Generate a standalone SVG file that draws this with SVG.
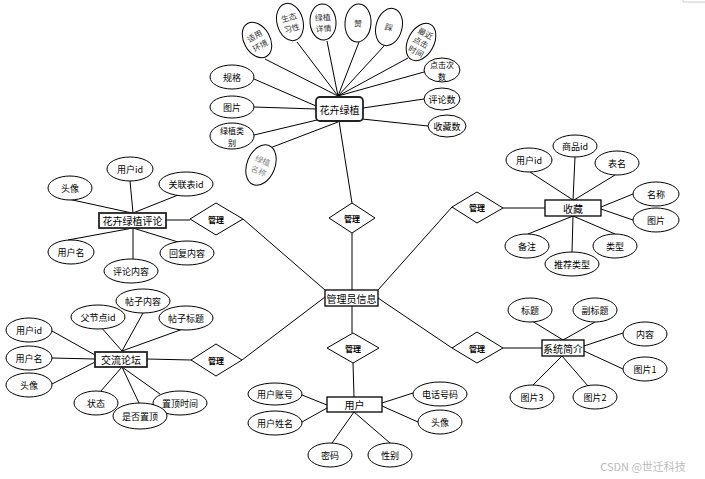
<svg xmlns="http://www.w3.org/2000/svg" width="705" height="479" viewBox="0 0 705 479">
<style>
.e{fill:#fff;stroke:#000;stroke-width:1}
.b{fill:#fff;stroke:#000;stroke-width:1.3}
.bb{fill:#fff;stroke:#222;stroke-width:1.8}
.d{fill:#fff;stroke:#000;stroke-width:1}
.l{stroke:#000;stroke-width:1;fill:none}
text{font-family:"Noto Sans CJK SC","Liberation Sans",sans-serif;font-size:9px;fill:#000;text-anchor:middle;dominant-baseline:central}
.t{font-size:10px}
.m{font-size:8px;font-weight:bold}
.s{font-size:8px}
.r{fill:#333;font-size:8px}
.g{fill:#888;font-size:8px}
</style>
<rect width="705" height="479" fill="#fff"/>
<path d="M683 0V2H705" stroke="#ccc" fill="none"/>
<g id="connectors">
<path class="l" d="M265 59L338 96M297 42L338 96M327 41L338 96M359 42L338 96M384 46L338 96M408 58L338 96M424 72L338 96M424 99L363 108M428 126L362 119M254 79L316 106M254 107L316 109M254 135L317 120M270 148L338 122M339 121L352 203"/>
<path class="l" d="M352 233V290M243 219L325 290M452 207L378 290M325 297L242 360M352 306V333M378 298L452 348M353 363L354 397"/>
<path class="l" d="M302 395L327 405M302 422L327 408M413 393L382 403M418 422L382 406M332 443L354 412M390 443L354 412"/>
<path class="l" d="M68 199L132 213M130 181L133 213M178 195L133 213M68 240L133 228M133 228V259M133 228L178 242M166 220H190"/>
<path class="l" d="M530 172L573 200M575 157L573 200M615 175L574 200M633 194L601 207M633 220L601 209M528 234L573 216M573 216L572 252M573 216L615 234M503 208H545"/>
<path class="l" d="M100 326L122 351M143 313L122 351M183 329L122 351M52 331L95 355M52 358L95 359M52 384L95 362M100 392L122 367M139 403L122 367M160 394L122 367M147 359L191 360"/>
<path class="l" d="M532 321L563 340M595 322L563 340M623 333L584 346M623 369L584 351M533 385L562 356M588 386L562 356M503 348H542"/>
</g>
<g id="n_flower"><rect class="bb" x="316" y="97" width="47" height="24" rx="4"/><text class="t" x="339.5" y="109">花卉绿植</text></g>
<g id="a_syhj" transform="translate(257 40) rotate(-30)"><ellipse class="e" rx="13" ry="19"/><text class="r" y="-5">适用</text><text class="r" y="6">环境</text></g>
<g id="a_stxx" transform="translate(290 22) rotate(-15)"><ellipse class="e" rx="13" ry="19"/><text class="r" y="-5">生态</text><text class="r" y="6">习性</text></g>
<g id="a_lzxq" transform="translate(323 22) rotate(-4)"><ellipse class="e" rx="13" ry="18"/><text class="r" y="-5">绿植</text><text class="r" y="6">详情</text></g>
<g id="a_zan" transform="translate(358 23) rotate(4)"><ellipse class="e" rx="13" ry="19"/><text class="r">赞</text></g>
<g id="a_cai" transform="translate(389 27) rotate(15)"><ellipse class="e" rx="13" ry="19"/><text class="r">踩</text></g>
<g id="a_zjdj" transform="translate(421 42) rotate(28)"><ellipse class="e" rx="13" ry="20"/><text class="r" y="-10">最近</text><text class="r" y="0">点击</text><text class="r" y="10">时间</text></g>
<g id="a_djcs"><ellipse class="e" cx="442" cy="70" rx="18" ry="12"/><text class="s" x="442" y="64">点击次</text><text class="s" x="442" y="76">数</text></g>
<g id="a_pls"><ellipse class="e" cx="442" cy="99" rx="18" ry="11"/><text x="442" y="99">评论数</text></g>
<g id="a_scs"><ellipse class="e" cx="447" cy="126" rx="19" ry="11"/><text x="447" y="126">收藏数</text></g>
<g id="a_gg"><ellipse class="e" cx="232" cy="77" rx="22" ry="12"/><text x="232" y="77">规格</text></g>
<g id="a_tp"><ellipse class="e" cx="232" cy="107" rx="22" ry="11"/><text x="232" y="107">图片</text></g>
<g id="a_lzlb"><ellipse class="e" cx="232" cy="136" rx="22" ry="13"/><text class="s" x="232" y="130">绿植类</text><text class="s" x="232" y="142">别</text></g>
<g id="a_lzmc" transform="translate(261 165) rotate(22)"><ellipse class="e" rx="14" ry="21"/><text class="g" y="-5">绿植</text><text class="g" y="6">名称</text></g>
<g id="r_top"><polygon class="d" points="352,203 375,218 352,233 329,218"/><text class="m" x="352" y="218">管理</text></g>
<g id="n_admin"><rect class="b" x="325" y="290" width="53" height="16"/><text class="t" x="351.5" y="298">管理员信息</text></g>
<g id="r_user"><polygon class="d" points="353,333 379,348 353,363 327,348"/><text class="m" x="353" y="348">管理</text></g>
<g id="n_user"><rect class="b" x="327" y="397" width="55" height="15"/><text class="t" x="354.5" y="404.5">用户</text></g>
<g id="a_yhzh"><ellipse class="e" cx="275" cy="394" rx="27" ry="11"/><text x="275" y="394">用户账号</text></g>
<g id="a_yhxm"><ellipse class="e" cx="275" cy="423" rx="27" ry="12"/><text x="275" y="423">用户姓名</text></g>
<g id="a_dhhm"><ellipse class="e" cx="440" cy="394" rx="27" ry="12"/><text x="440" y="394">电话号码</text></g>
<g id="a_utx"><ellipse class="e" cx="440" cy="422" rx="22" ry="12"/><text x="440" y="422">头像</text></g>
<g id="a_mm"><ellipse class="e" cx="330" cy="455" rx="22" ry="12"/><text x="330" y="455">密码</text></g>
<g id="a_xb"><ellipse class="e" cx="390" cy="455" rx="22" ry="12"/><text x="390" y="455">性别</text></g>
<g id="r_comment"><polygon class="d" points="216,203 243,219 216,235 190,219"/><text class="m" x="216" y="219">管理</text></g>
<g id="n_comment"><rect class="bb" x="99" y="213" width="67" height="15"/><text class="t" x="132.5" y="220.5">花卉绿植评论</text></g>
<g id="a_ctx"><ellipse class="e" cx="70" cy="188" rx="22" ry="12"/><text x="70" y="188">头像</text></g>
<g id="a_cuid"><ellipse class="e" cx="130" cy="169" rx="23" ry="12"/><text x="130" y="169">用户id</text></g>
<g id="a_glb"><ellipse class="e" cx="186" cy="184" rx="27" ry="12"/><text x="186" y="184">关联表id</text></g>
<g id="a_cyhm"><ellipse class="e" cx="71" cy="252" rx="23" ry="12"/><text x="71" y="252">用户名</text></g>
<g id="a_plnr"><ellipse class="e" cx="131" cy="271" rx="27" ry="12"/><text x="131" y="271">评论内容</text></g>
<g id="a_hfnr"><ellipse class="e" cx="187" cy="253" rx="27" ry="12"/><text x="187" y="253">回复内容</text></g>
<g id="r_fav"><polygon class="d" points="477,192 503,208 477,223 452,207"/><text class="m" x="477" y="207.5">管理</text></g>
<g id="n_fav"><rect class="b" x="545" y="200" width="56" height="16"/><text class="t" x="573" y="208">收藏</text></g>
<g id="a_fuid"><ellipse class="e" cx="529" cy="160" rx="23" ry="12"/><text x="529" y="160">用户id</text></g>
<g id="a_spid"><ellipse class="e" cx="575" cy="146" rx="22" ry="11"/><text x="575" y="146">商品id</text></g>
<g id="a_bm"><ellipse class="e" cx="617" cy="163" rx="22" ry="12"/><text x="617" y="163">表名</text></g>
<g id="a_mc"><ellipse class="e" cx="656" cy="194" rx="23" ry="12"/><text x="656" y="194">名称</text></g>
<g id="a_ftp"><ellipse class="e" cx="656" cy="220" rx="23" ry="12"/><text x="656" y="220">图片</text></g>
<g id="a_bz"><ellipse class="e" cx="527" cy="246" rx="22" ry="12"/><text x="527" y="246">备注</text></g>
<g id="a_tjlx"><ellipse class="e" cx="572" cy="264" rx="27" ry="12"/><text x="572" y="264">推荐类型</text></g>
<g id="a_lx"><ellipse class="e" cx="615" cy="246" rx="22" ry="12"/><text x="615" y="246">类型</text></g>
<g id="r_forum"><polygon class="d" points="216,344 242,360 216,376 191,360"/><text class="m" x="216" y="360">管理</text></g>
<g id="n_forum"><rect class="bb" x="95" y="352" width="52" height="15"/><text class="t" x="121" y="359.5">交流论坛</text></g>
<g id="a_fjd"><ellipse class="e" cx="98" cy="317" rx="27" ry="12"/><text x="98" y="317">父节点id</text></g>
<g id="a_tznr"><ellipse class="e" cx="143" cy="301" rx="27" ry="12"/><text x="143" y="301">帖子内容</text></g>
<g id="a_tzbt"><ellipse class="e" cx="186" cy="318" rx="27" ry="12"/><text x="186" y="318">帖子标题</text></g>
<g id="a_luid"><ellipse class="e" cx="29" cy="330" rx="23" ry="12"/><text x="29" y="330">用户id</text></g>
<g id="a_lyhm"><ellipse class="e" cx="29" cy="358" rx="23" ry="12"/><text x="29" y="358">用户名</text></g>
<g id="a_ltx"><ellipse class="e" cx="29" cy="385" rx="23" ry="12"/><text x="29" y="385">头像</text></g>
<g id="a_zt"><ellipse class="e" cx="96" cy="403" rx="22" ry="12"/><text x="96" y="403">状态</text></g>
<g id="a_zdsj"><ellipse class="e" cx="180" cy="403" rx="27" ry="12"/><text x="180" y="403">置顶时间</text></g>
<g id="a_sfzd"><ellipse class="e" cx="140" cy="416" rx="27" ry="13"/><text x="140" y="416">是否置顶</text></g>
<g id="r_sys"><polygon class="d" points="477,332 503,348 477,363 452,348"/><text class="m" x="477" y="348">管理</text></g>
<g id="n_sys"><rect class="b" x="542" y="340" width="42" height="16"/><text class="t" x="563" y="348">系统简介</text></g>
<g id="a_bt"><ellipse class="e" cx="530" cy="310" rx="22" ry="12"/><text x="530" y="310">标题</text></g>
<g id="a_fbt"><ellipse class="e" cx="595" cy="310" rx="22" ry="12"/><text x="595" y="310">副标题</text></g>
<g id="a_nr"><ellipse class="e" cx="645" cy="334" rx="22" ry="12"/><text x="645" y="334">内容</text></g>
<g id="a_tp1"><ellipse class="e" cx="645" cy="369" rx="22" ry="12"/><text x="645" y="369">图片1</text></g>
<g id="a_tp3"><ellipse class="e" cx="532" cy="397" rx="22" ry="12"/><text x="532" y="397">图片3</text></g>
<g id="a_tp2"><ellipse class="e" cx="595" cy="397" rx="22" ry="12"/><text x="595" y="397">图片2</text></g>
<text x="643" y="466" style="font-size:11px;fill:#bbb">CSDN @世迁科技</text>
</svg>
